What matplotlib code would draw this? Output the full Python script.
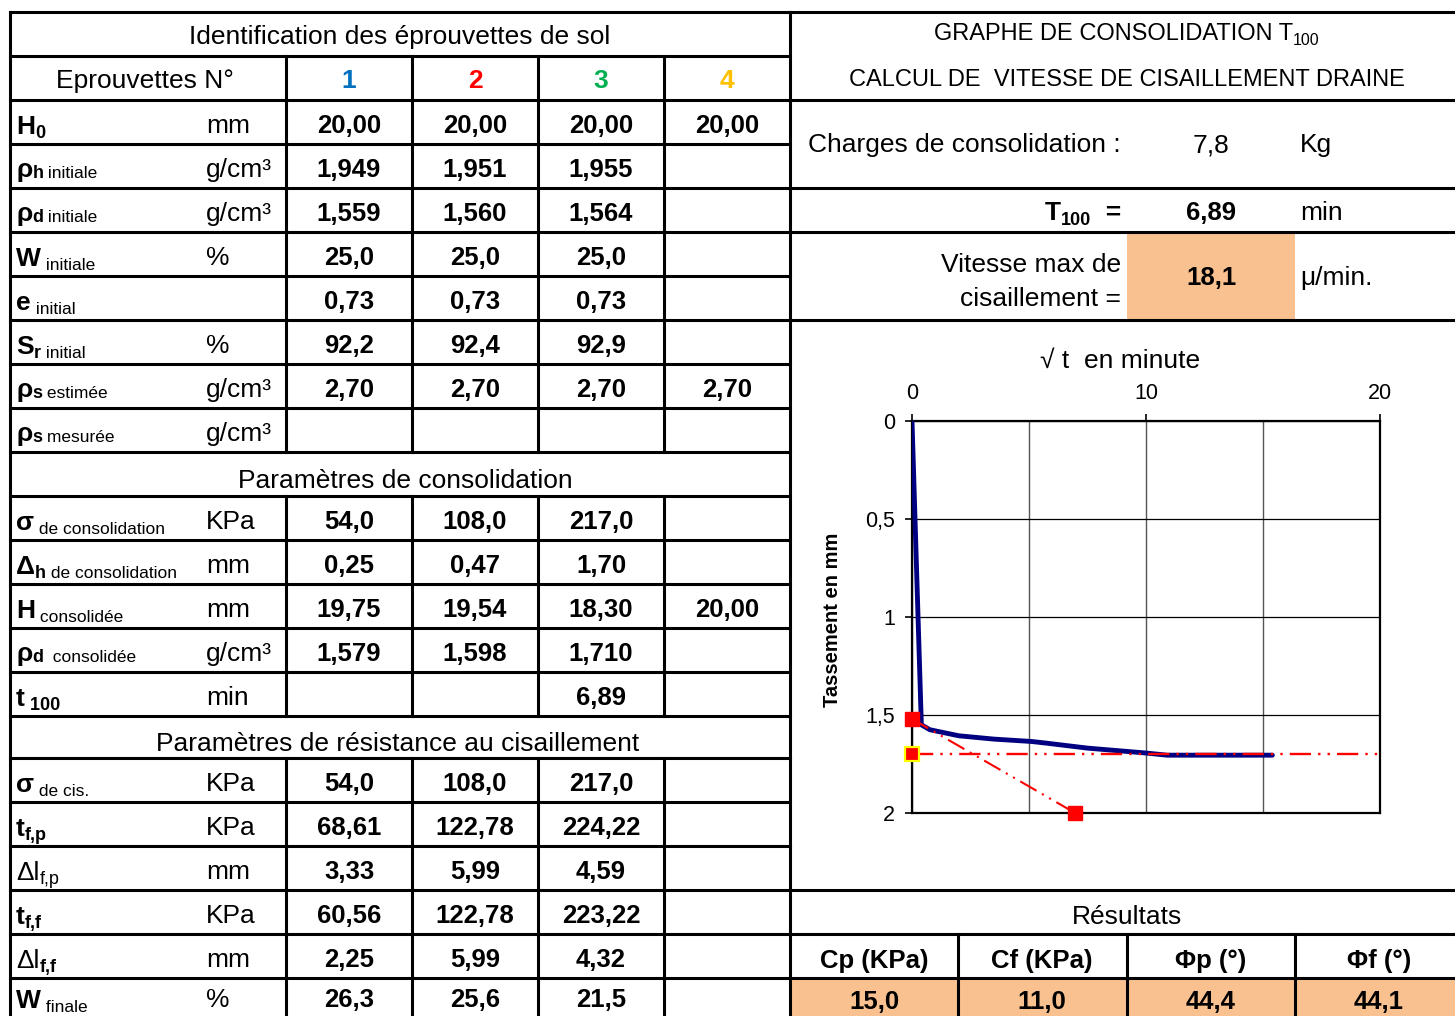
import matplotlib
matplotlib.use('Agg')
import matplotlib.pyplot as plt

FONT = ['Liberation Sans', 'DejaVu Sans']
plt.rcParams['font.family'] = FONT

# ---------------- data ----------------
specimens = ['1', '2', '3', '4']
specimen_colors = ['#0070C0', '#FF0000', '#00B050', '#FFC000']

ident_labels = [("H", "0", ""), ("ρ", "h", " initiale"), ("ρ", "d", " initiale"),
                ("W", "", " initiale"), ("e", "", " initial"), ("S", "r", " initial"),
                ("ρ", "s", " estimée"), ("ρ", "s", " mesurée")]
ident_units = ['mm', 'g/cm³', 'g/cm³', '%', '', '%', 'g/cm³', 'g/cm³']
ident_c1 = ['20,00', '1,949', '1,559', '25,0', '0,73', '92,2', '2,70', '']
ident_c2 = ['20,00', '1,951', '1,560', '25,0', '0,73', '92,4', '2,70', '']
ident_c3 = ['20,00', '1,955', '1,564', '25,0', '0,73', '92,9', '2,70', '']
ident_c4 = ['20,00', '', '', '', '', '', '2,70', '']

consol_labels = [("σ", "", " de consolidation"), ("Δ", "h", " de consolidation"),
                 ("H", "", " consolidée"), ("ρ", "d", "  consolidée"), ("t", " 100", "")]
consol_units = ['KPa', 'mm', 'mm', 'g/cm³', 'min']
consol_c1 = ['54,0', '0,25', '19,75', '1,579', '']
consol_c2 = ['108,0', '0,47', '19,54', '1,598', '']
consol_c3 = ['217,0', '1,70', '18,30', '1,710', '6,89']
consol_c4 = ['', '', '20,00', '', '']

shear_labels = [("σ", "", " de cis."), ("t", "f,p", ""), ("Δl", "f,p", ""),
                ("t", "f,f", ""), ("Δl", "f,f", ""), ("W", "", " finale")]
shear_units = ['KPa', 'KPa', 'mm', 'KPa', 'mm', '%']
shear_c1 = ['54,0', '68,61', '3,33', '60,56', '2,25', '26,3']
shear_c2 = ['108,0', '122,78', '5,99', '122,78', '5,99', '25,6']
shear_c3 = ['217,0', '224,22', '4,59', '223,22', '4,32', '21,5']
shear_c4 = ['', '', '', '', '', '']

charge_kg = '7,8'
t100_min = '6,89'
vitesse = '18,1'
result_headers = ['Cp (KPa)', 'Cf (KPa)', 'Φp (°)', 'Φf (°)']
result_values = ['15,0', '11,0', '44,4', '44,1']

# consolidation curve (sqrt t in minutes vs settlement in mm)
sqrt_t_min = [0, 0.4, 0.76, 2.0, 3.5, 5.1, 5.7, 7.5, 10.0, 10.9, 15.4]
tassement_mm = [0, 1.55, 1.575, 1.606, 1.623, 1.635, 1.643, 1.669, 1.694, 1.705, 1.705]
t100_line_x = [0, 20]
t100_line_y = [1.70, 1.70]
t100_point_x = [0]
t100_point_y = [1.70]
tangent_x = [0, 6.97]
tangent_y = [1.52, 2.0]
x_ticks = [0, 10, 20]
x_tick_labels = ['0', '10', '20']
y_ticks = [0, 0.5, 1, 1.5, 2]
y_tick_labels = ['0', '0,5', '1', '1,5', '2']

# ---------------- figure ----------------
fig = plt.figure(figsize=(14.55, 10.16), dpi=100)
bg = fig.add_axes([0, 0, 1, 1])
bg.set_xlim(0, 1455)
bg.set_ylim(1016, 0)
bg.axis('off')
renderer = fig.canvas.get_renderer()

ORANGE = '#F8C18F'
LW = 2.2


def rich(x, y, parts, ha='left'):
    arts = []
    total = 0
    for s, size, weight, dy, color in parts:
        t = bg.text(0, y + dy, s, fontsize=size, fontweight=weight,
                    va='baseline', ha='left', color=color)
        w = t.get_window_extent(renderer).width
        arts.append((t, w))
        total += w
    x0 = {'left': x, 'center': x - total / 2, 'right': x - total}[ha]
    for t, w in arts:
        t.set_x(x0)
        x0 += w


# fills
bg.fill_between([1127, 1295], 232, 320, color=ORANGE, lw=0)
bg.fill_between([790, 1455], 978, 1016, color=ORANGE, lw=0)

# left table grid
Y = [12, 56, 100, 144, 188, 232, 276, 320, 364, 408, 452, 496, 540, 584,
     628, 672, 716, 758, 802, 846, 890, 934, 978]
for y in Y:
    bg.plot([10, 790], [y, y], color='black', lw=LW, solid_capstyle='projecting')
bg.plot([10, 10], [12, 1016], color='black', lw=LW)
bg.plot([790, 790], [12, 1016], color='black', lw=LW)
for x in [286, 412, 538, 664]:
    for y0, y1 in [(56, 452), (496, 716), (758, 1016)]:
        bg.plot([x, x], [y0, y1], color='black', lw=LW)

# right panel grid
for y in [12, 100, 188, 232, 320, 890, 934, 978]:
    bg.plot([790, 1455], [y, y], color='black', lw=LW)
for x in [958, 1127, 1295]:
    bg.plot([x, x], [934, 1016], color='black', lw=LW)

# ---------- left table text ----------
FS = 19
VS = 18.5
OFF = 11  # baseline offset from row bottom
rich(400, 44, [("Identification des éprouvettes de sol", FS, 'normal', 0, 'black')], ha='center')
rich(145, 88, [("Eprouvettes N°", FS, 'normal', 0, 'black')], ha='center')
col_centers = [349, 475, 601, 727]
for cx, s, c in zip(col_centers, specimens, specimen_colors):
    rich(cx, 88, [(s, FS, 'bold', 0, c)], ha='center')


def draw_rows(bottoms, labels, units, cols):
    for i, (main, sub, tail) in enumerate(labels):
        bottom = bottoms[i]
        base = bottom - 10
        rho = main == 'ρ'
        dy = 0 if rho else 4
        main_w = 'normal' if main == 'Δl' else 'bold'
        sub_w = 'normal' if (main == 'Δl' and sub == 'f,p') else 'bold'
        parts = [(main, FS, main_w, -1 if rho else 0, 'black')]
        if sub:
            parts.append((sub, 13, sub_w, dy, 'black'))
        if tail:
            parts.append((tail, 12.5, 'normal', dy, 'black'))
        rich(16, base, parts)
        if units[i]:
            rich(206, bottom - OFF, [(units[i], FS, 'normal', 0, 'black')])
        for cx, col in zip(col_centers, cols):
            if col[i]:
                rich(cx, bottom - OFF, [(col[i], VS, 'bold', 0, 'black')], ha='center')


draw_rows([144, 188, 232, 276, 320, 364, 408, 452], ident_labels, ident_units,
          [ident_c1, ident_c2, ident_c3, ident_c4])
rich(405, 488, [("Paramètres de consolidation", FS, 'normal', 0, 'black')], ha='center')
draw_rows([540, 584, 628, 672, 716], consol_labels, consol_units,
          [consol_c1, consol_c2, consol_c3, consol_c4])
rich(398, 751, [("Paramètres de résistance au cisaillement", FS, 'normal', 0, 'black')], ha='center')
draw_rows([802, 846, 890, 934, 978, 1018], shear_labels, shear_units,
          [shear_c1, shear_c2, shear_c3, shear_c4])

# ---------- right panel text ----------
rich(1127, 40, [("GRAPHE DE CONSOLIDATION T", 17, 'normal', 0, 'black'),
                ("100", 11.5, 'normal', 5, 'black')], ha='center')
rich(1127, 86, [("CALCUL DE  VITESSE DE CISAILLEMENT DRAINE", 17, 'normal', 0, 'black')], ha='center')
rich(808, 152, [("Charges de consolidation :", FS, 'normal', 0, 'black')])
rich(1211, 152, [(charge_kg, FS, 'normal', 0, 'black')], ha='center')
rich(1300, 152, [("Kg", FS, 'normal', 0, 'black')])
rich(1121, 220, [("T", FS, 'bold', 0, 'black'), ("100", 13, 'bold', 5, 'black'),
                 ("  =", FS, 'bold', 0, 'black')], ha='right')
rich(1211, 220, [(t100_min, VS, 'bold', 0, 'black')], ha='center')
rich(1300, 220, [("min", FS, 'normal', 0, 'black')])
rich(1121, 272, [("Vitesse max de", FS, 'normal', 0, 'black')], ha='right')
rich(1121, 306, [("cisaillement =", FS, 'normal', 0, 'black')], ha='right')
rich(1211, 285, [(vitesse, VS, 'bold', 0, 'black')], ha='center')
rich(1300, 285, [("μ/min.", FS, 'normal', 0, 'black')])

rich(1127, 924, [("Résultats", FS, 'normal', 0, 'black')], ha='center')
res_centers = [874, 1042, 1211, 1379]
for cx, h, v in zip(res_centers, result_headers, result_values):
    rich(cx, 968, [(h, VS, 'bold', 0, 'black')], ha='center')
    rich(cx, 1009, [(v, VS, 'bold', 0, 'black')], ha='center')

# chart titles
rich(1120, 368, [("√ t  en minute", FS, 'normal', 0, 'black')], ha='center')
bg.text(833, 620, "Tassement en mm", fontsize=14.5, fontweight='bold',
        rotation=90, ha='center', va='center')

# ---------- chart ----------
ax = fig.add_axes([912 / 1455, 1 - 813 / 1016, 468 / 1455, 392 / 1016])
ax.plot(sqrt_t_min, tassement_mm, color='#000080', lw=3.5,
        solid_joinstyle='round', solid_capstyle='round', zorder=3)
ax.plot(t100_line_x, t100_line_y, color='red', lw=1.7, dashes=(9, 3, 1, 3, 1, 3), zorder=4)
ax.plot(tangent_x, tangent_y, color='red', lw=1.5, dashes=(9, 3, 1, 3, 1, 3), zorder=4)
ax.plot(tangent_x, tangent_y, ls='none', marker='s', ms=10, mfc='red', mec='red',
        zorder=6, clip_on=False)
ax.plot(t100_point_x, t100_point_y, ls='none', marker='s', ms=9.5, mfc='red', mec='yellow',
        mew=1.6, zorder=6, clip_on=False)
ax.set_xlim(0, 20)
ax.set_ylim(2, 0)
ax.xaxis.tick_top()
ax.set_xticks(x_ticks)
ax.set_xticklabels(x_tick_labels)
ax.set_xticks([5, 15], minor=True)
ax.set_yticks(y_ticks)
ax.set_yticklabels(y_tick_labels)
ax.grid(True, which='both', axis='x', color='#555555', lw=1.0)
ax.grid(True, which='major', axis='y', color='black', lw=0.9)
ax.tick_params(which='minor', length=0)
ax.tick_params(which='major', length=5, width=1.2, labelsize=15.5, direction='out', pad=7)
for s in ax.spines.values():
    s.set_linewidth(1.6)
ax.set_axisbelow(True)

fig.savefig('out.png', dpi=100)
